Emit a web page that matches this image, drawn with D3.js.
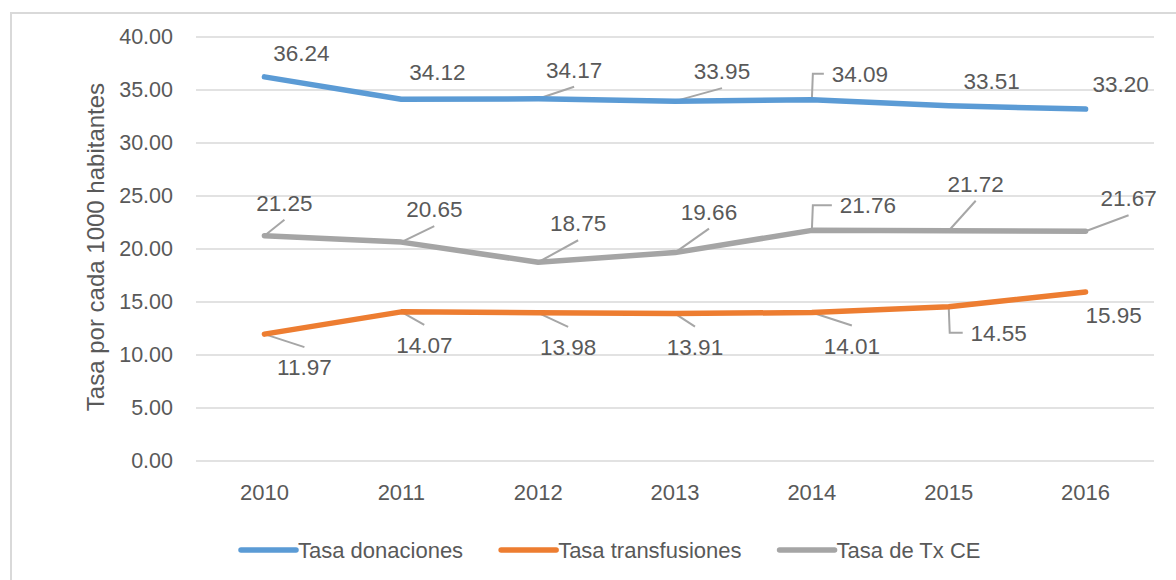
<!DOCTYPE html>
<html>
<head>
<meta charset="utf-8">
<script src="https://cdn.jsdelivr.net/npm/d3@7/dist/d3.min.js"></script>
<style>
  html, body { margin: 0; padding: 0; background: #fff; }
  svg { display: block; }
  text { font-family: "Liberation Sans", Arial, sans-serif; fill: #595959; }
</style>
</head>
<body>
<svg id="chart" width="1176" height="580"></svg>
<script>
// ---- data ----
const years = ["2010", "2011", "2012", "2013", "2014", "2015", "2016"];
const donaciones = [36.24, 34.12, 34.17, 33.95, 34.09, 33.51, 33.20];
const transfusiones = [11.97, 14.07, 13.98, 13.91, 14.01, 14.55, 15.95];
const txCE = [21.25, 20.65, 18.75, 19.66, 21.76, 21.72, 21.67];
const yTicks = [0, 5, 10, 15, 20, 25, 30, 35, 40];
const seriesNames = ["Tasa donaciones", "Tasa transfusiones", "Tasa de Tx CE"];
const yTitle = "Tasa por cada 1000 habitantes";

// ---- label layout (offsets of label centre from point, leader type) ----
const labelLayout = {
  "Tasa donaciones": {
    off: [[37, -24], [36, -27], [36, -29], [47, -30], [48, -26], [43, -25], [35, -25]],
    lead: [null, null, "v", "v", "e", null, null]
  },
  "Tasa de Tx CE": {
    off: [[20, -33], [33, -33], [40, -39], [34, -41], [56, -25], [27, -47], [43, -33]],
    lead: ["v", "v", "v", "v", "e", "v", "v"]
  },
  "Tasa transfusiones": {
    off: [[40, 33], [23, 33], [30, 34], [20, 33], [40, 33], [50, 26], [28, 23]],
    lead: ["v", "v", "v", "v", "v", "e", null]
  }
};

const series = [
  { name: seriesNames[0], values: donaciones, color: "#5b9bd5" },
  { name: seriesNames[1], values: transfusiones, color: "#ed7d31" },
  { name: seriesNames[2], values: txCE, color: "#a5a5a5" }
];

const svg = d3.select("#chart");

// frame
svg.append("rect")
  .attr("x", 11).attr("y", 13).attr("width", 1200).attr("height", 620)
  .attr("fill", "none").attr("stroke", "#d9d9d9").attr("stroke-width", 2);

const plot = { left: 196, right: 1154, top: 37, bottom: 461 };

const x = d3.scaleBand().domain(years).range([plot.left, plot.right]).padding(0);
const y = d3.scaleLinear().domain([0, 40]).range([plot.bottom, plot.top]);
const cx = d => x(d) + x.bandwidth() / 2;

// gridlines
svg.append("g").selectAll("line").data(yTicks).join("line")
  .attr("x1", plot.left).attr("x2", plot.right)
  .attr("y1", d => y(d)).attr("y2", d => y(d))
  .attr("stroke", "#d9d9d9").attr("stroke-width", 1.5);

// y axis labels
const yAxis = d3.axisLeft(y).tickValues(yTicks).tickFormat(d3.format(".2f")).tickSize(0).tickPadding(0);
const gy = svg.append("g").attr("transform", `translate(173,0)`).call(yAxis);
gy.select(".domain").remove();
gy.selectAll("text").attr("font-size", 21.5).attr("fill", "#595959")
  .attr("font-family", "Liberation Sans, Arial, sans-serif");

// x axis labels
const xAxis = d3.axisBottom(x).tickSize(0).tickPadding(0);
const gx = svg.append("g").attr("transform", `translate(0,${plot.bottom})`).call(xAxis);
gx.select(".domain").remove();
gx.selectAll("text").attr("font-size", 22).attr("fill", "#595959")
  .attr("font-family", "Liberation Sans, Arial, sans-serif")
  .attr("dy", null).attr("y", 39);

// y title
svg.append("text")
  .attr("transform", `translate(104,247) rotate(-90)`)
  .attr("text-anchor", "middle")
  .attr("font-size", 24)
  .text(yTitle);

// leader lines
const leaders = svg.append("g");
series.forEach(s => {
  const lay = labelLayout[s.name];
  s.values.forEach((v, i) => {
    const type = lay.lead[i];
    if (!type) return;
    const px = cx(years[i]), py = y(v);
    const lx = px + lay.off[i][0], ly = py + lay.off[i][1];
    let path;
    if (type === "v") {
      const ey = lay.off[i][1] < 0 ? ly + 17 : ly - 20;
      path = `M${px},${py}L${lx},${ey}`;
    } else {
      const ex = lx - 36;
      path = `M${px},${py}L${px + 1},${ly}L${ex},${ly}`;
    }
    leaders.append("path").attr("d", path)
      .attr("fill", "none").attr("stroke", "#a6a6a6").attr("stroke-width", 2);
  });
});

// lines
const line = d3.line().x((d, i) => cx(years[i])).y(d => y(d));
svg.append("g").selectAll("path").data(series).join("path")
  .attr("d", d => line(d.values))
  .attr("fill", "none")
  .attr("stroke", d => d.color)
  .attr("stroke-width", 5.5)
  .attr("stroke-linejoin", "round")
  .attr("stroke-linecap", "round");

// data labels
const labels = svg.append("g");
series.forEach(s => {
  const lay = labelLayout[s.name];
  labels.selectAll(null).data(s.values).join("text")
    .attr("x", (d, i) => cx(years[i]) + lay.off[i][0])
    .attr("y", (d, i) => y(d) + lay.off[i][1])
    .attr("dy", "0.36em")
    .attr("text-anchor", "middle")
    .attr("font-size", 22.5)
    .text(d => d3.format(".2f")(d));
});

// legend
const legend = svg.append("g");
let lxPos = 241;
const legY = 550;
series.forEach(s => {
  legend.append("line")
    .attr("x1", lxPos).attr("x2", lxPos + 55)
    .attr("y1", legY).attr("y2", legY)
    .attr("stroke", s.color).attr("stroke-width", 5.5)
    .attr("stroke-linecap", "round");
  const t = legend.append("text")
    .attr("x", lxPos + 57).attr("y", legY).attr("dy", "0.36em")
    .attr("font-size", 22)
    .text(s.name);
  lxPos += 57 + t.node().getComputedTextLength() + 38;
});
</script>
</body>
</html>
